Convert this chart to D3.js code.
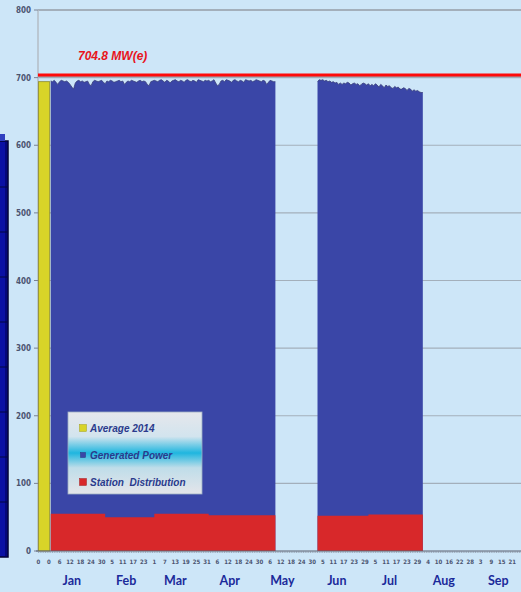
<!DOCTYPE html>
<html>
<head>
<meta charset="utf-8">
<script src="https://cdn.jsdelivr.net/npm/d3@7"></script>
<style>
  html, body { margin: 0; padding: 0; background: #cde6f8; }
  svg { display: block; }
</style>
</head>
<body>
<svg id="chart"></svg>
<script>
// Daily generated power, MW(e)
const genJan = [695,694,696,693,690,694,696,695,694,695,693,690,686,683,692,695,696,694,695,693,694,695,690,688,694,696,695,694,695,696,693];
const genFeb = [691,695,694,696,695,693,694,695,696,694,695,690,693,695,694,696,695,694,693,695,696,694,695,694,690,688,694,695];
const genMar = [696,695,694,696,697,695,693,696,695,692,695,696,697,695,694,696,695,693,696,697,695,694,696,695,693,697,696,695,694,696,695];
const genApr = [696,694,695,697,692,688,690,695,696,694,697,696,695,693,696,697,695,694,696,695,693,697,696,695,696,694,695,697,696,695];
const genMay = [694,696,695,690,693,696,695,694];            // May 1 - May 8
const genJun = [694,697,696,697,695,696,694,695,693,694,692,693,690,692,690,692,691,693,692,689,691,692,690,691,688,690,692,691,689]; // Jun 2 - Jun 30
const genJul = [691,688,690,688,691,689,686,690,688,685,689,687,688,685,684,687,685,686,683,683,685,684,681,684,683,680,682,680,681,679,678];

// Monthly station distribution, MW(e)
const stationMonths = ['2014-01-01','2014-02-01','2014-03-01','2014-04-01','2014-05-01','2014-06-01','2014-07-01'];
const stationValues = [55, 50, 55, 53, 53, 52, 54];

const average2014 = 694;
const ratedPower = 704.8;
const yTicks = [0, 100, 200, 300, 400, 500, 600, 700, 800];
const monthLabels = ['Jan','Feb','Mar','Apr','May','Jun','Jul','Aug','Sep'];

const width = 521, height = 592;
const colors = {
  bg: '#cde6f8', blue: '#3a46a7', red: '#d8282a', yellow: '#d8d428',
  grid: '#a3afbb', axisText: '#4b5470', month: '#1b2a9a'
};

const parse = d3.timeParse('%Y-%m-%d');
const day = (s, n) => d3.timeDay.offset(parse(s), n);

const svg = d3.select('#chart').attr('width', width).attr('height', height);

const x = d3.scaleTime()
  .domain([parse('2013-12-31'), parse('2014-09-30')])
  .range([49, 49 + 273 * 1.755]);
const y = d3.scaleLinear().domain([0, 800]).range([551, 10]);
const plotLeft = 38;

// left decorative panel (cut-off element)
const panel = svg.append('g');
panel.append('rect').attr('x', -2).attr('y', 141).attr('width', 10).attr('height', 416)
  .attr('fill', '#0a10a4').attr('stroke', '#000030').attr('stroke-width', 1.5);
panel.append('rect').attr('x', 0).attr('y', 134).attr('width', 5).attr('height', 7).attr('fill', '#3040c0');
panel.append('line').attr('x1', 6).attr('x2', 6).attr('y1', 141).attr('y2', 557)
  .attr('stroke', '#000060').attr('stroke-width', 1.2);
d3.range(0, 8).forEach(i => {
  panel.append('line').attr('x1', 0).attr('x2', 8)
    .attr('y1', 187 + i * 45).attr('y2', 187 + i * 45)
    .attr('stroke', '#020640').attr('stroke-width', 1);
});

// grid lines
svg.append('g').selectAll('line').data(yTicks.filter(d => d > 0)).enter().append('line')
  .attr('x1', plotLeft).attr('x2', width)
  .attr('y1', d => y(d)).attr('y2', d => y(d))
  .attr('stroke', colors.grid).attr('stroke-width', d => d === 800 ? 1.8 : 1.2);

// y axis
svg.append('line').attr('x1', plotLeft).attr('x2', plotLeft).attr('y1', y(800)).attr('y2', y(0))
  .attr('stroke', '#b3bcc6').attr('stroke-width', 1.5);
const yAxis = svg.append('g');
yAxis.selectAll('text').data(yTicks).enter().append('text')
  .attr('x', 31).attr('y', d => y(d) + 3)
  .attr('text-anchor', 'end')
  .style('font-family', '"DejaVu Sans Condensed", "DejaVu Sans", sans-serif')
  .style('font-stretch', 'condensed')
  .style('font-size', '8px').style('font-weight', 'bold')
  .style('fill', colors.axisText)
  .text(d => d);
yAxis.selectAll('line').data(yTicks).enter().append('line')
  .attr('x1', 34).attr('x2', plotLeft).attr('y1', d => y(d)).attr('y2', d => y(d))
  .attr('stroke', '#7a8294');

// series
const series = (start, arrays) => {
  const vals = [].concat(...arrays);
  const pts = vals.map((v, i) => ({ date: day(start, i), v }));
  pts.push({ date: day(start, vals.length), v: vals[vals.length - 1] });
  return pts;
};
const blockA = series('2014-01-01', [genJan, genFeb, genMar, genApr, genMay]);
const blockB = series('2014-06-02', [genJun, genJul]);

const stationAt = date => {
  let v = stationValues[0];
  stationMonths.forEach((m, i) => { if (date >= parse(m)) v = stationValues[i]; });
  return v;
};

const genArea = d3.area().x(d => x(d.date)).y0(y(0)).y1(d => y(d.v));
const genLine = d3.line().x(d => x(d.date)).y(d => y(d.v));
const stationArea = d3.area().curve(d3.curveStepAfter)
  .x(d => x(d.date)).y0(y(0)).y1(d => y(stationAt(d.date)));

[blockA, blockB].forEach(block => {
  svg.append('path').datum(block).attr('d', genArea).attr('fill', colors.blue);
  svg.append('path').datum(block).attr('d', genLine)
    .attr('fill', 'none').attr('stroke', '#3a3f78').attr('stroke-width', 0.8);
  // station distribution: one point per day
  const days = d3.timeDay.range(block[0].date, block[block.length - 1].date).map(date => ({ date }));
  days.push({ date: block[block.length - 1].date });
  svg.append('path').datum(days).attr('d', stationArea).attr('fill', colors.red);
});

// average bar
svg.append('rect')
  .attr('x', plotLeft + 0.5).attr('width', x(parse('2014-01-01')) - plotLeft - 1.5)
  .attr('y', y(average2014)).attr('height', y(0) - y(average2014))
  .attr('fill', colors.yellow).attr('stroke', '#8c8a2c').attr('stroke-width', 0.8);

// rated power line
svg.append('line').attr('x1', plotLeft).attr('x2', width)
  .attr('y1', y(ratedPower) + 2).attr('y2', y(ratedPower) + 2)
  .attr('stroke', '#9aa6b4').attr('stroke-width', 1.5);
svg.append('line').attr('x1', plotLeft).attr('x2', width)
  .attr('y1', y(ratedPower) + 0.5).attr('y2', y(ratedPower) + 0.5)
  .attr('stroke', '#ff0a0a').attr('stroke-width', 3);
svg.append('text').attr('x', 78).attr('y', 60)
  .style('font-family', '"Liberation Sans", Arial, sans-serif')
  .style('font-size', '12px').style('font-weight', 'bold').style('font-style', 'italic')
  .style('fill', '#e8141c')
  .text(`${ratedPower} MW(e)`);

// x axis
svg.append('line').attr('x1', plotLeft - 2).attr('x2', width).attr('y1', y(0)).attr('y2', y(0))
  .attr('stroke', '#5a6070').attr('stroke-width', 1);
const minor = d3.timeDay.range(parse('2013-12-25'), parse('2014-10-01'));
svg.append('g').selectAll('line').data(minor).enter().append('line')
  .attr('x1', d => x(d)).attr('x2', d => x(d)).attr('y1', y(0)).attr('y2', y(0) + 2)
  .attr('stroke', '#7f8796').attr('stroke-width', 0.6);
const xTicks = d3.range(-6, 270, 6).map(n => d3.timeDay.offset(parse('2013-12-31'), n));
svg.append('g').selectAll('text').data(xTicks).enter().append('text')
  .attr('x', d => x(d)).attr('y', 564)
  .attr('text-anchor', 'middle')
  .style('font-family', '"DejaVu Sans Condensed", "DejaVu Sans", sans-serif')
  .style('font-stretch', 'condensed')
  .style('font-size', '6px').style('font-weight', 'bold')
  .style('fill', colors.axisText)
  .text(d => d.getFullYear() === 2013 ? 0 : d.getDate());

svg.append('g').selectAll('text').data(monthLabels).enter().append('text')
  .attr('x', (d, i) => x(d3.timeDay.offset(d3.timeMonth.offset(parse('2014-01-01'), i), 12)))
  .attr('y', 585)
  .attr('text-anchor', 'middle')
  .style('font-family', 'Lato, "Open Sans", sans-serif')
  .style('font-size', '12.5px').style('font-weight', 'bold')
  .style('fill', colors.month)
  .text(d => d);

// legend
const defs = svg.append('defs');
const grad = defs.append('linearGradient').attr('id', 'legendBg')
  .attr('x1', 0).attr('x2', 0).attr('y1', 0).attr('y2', 1);
[['0%', '#e6e7ec'], ['30%', '#d2e4ee'], ['50%', '#1fb6df'], ['68%', '#bfdde9'], ['100%', '#e4e5ea']]
  .forEach(([o, c]) => grad.append('stop').attr('offset', o).attr('stop-color', c));

const legendItems = [
  { label: 'Average 2014', color: colors.yellow, size: 7 },
  { label: 'Generated Power', color: colors.blue, size: 5 },
  { label: 'Station  Distribution', color: colors.red, size: 7 }
];
const legend = svg.append('g').attr('transform', 'translate(68, 412)');
legend.append('rect').attr('width', 134).attr('height', 82)
  .attr('fill', 'url(#legendBg)').attr('stroke', '#9fb0c4').attr('stroke-width', 0.8);
const li = legend.selectAll('g').data(legendItems).enter().append('g')
  .attr('transform', (d, i) => `translate(14, ${16 + i * 27})`);
li.append('rect')
  .attr('x', d => -d.size / 2 + 1).attr('y', d => -d.size / 2)
  .attr('width', d => d.size).attr('height', d => d.size)
  .attr('fill', d => d.color).attr('stroke', d => d3.rgb(d.color).darker(0.8)).attr('stroke-width', 0.5);
li.append('text')
  .attr('x', 8).attr('y', 4)
  .style('font-family', '"Liberation Sans", Arial, sans-serif')
  .style('font-size', '10px').style('font-weight', 'bold').style('font-style', 'italic')
  .style('fill', '#2a3a8c')
  .style('white-space', 'pre')
  .text(d => d.label);
</script>
</body>
</html>
